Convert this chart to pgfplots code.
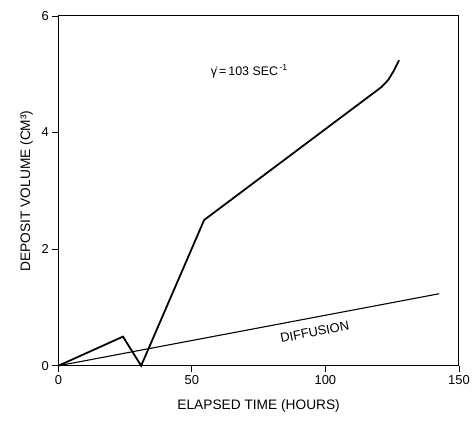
\documentclass[border=0pt]{standalone}
\usepackage{fontspec}
\setmainfont{Liberation Sans}
\usepackage{pgfplots}
\pgfplotsset{compat=1.18}
\begin{document}
\begin{tikzpicture}
\begin{axis}[
  scale only axis, width=403pt, height=352pt,
  xmin=0, xmax=150, ymin=0, ymax=6,
  xtick={0,50,100,150}, ytick={0,2,4,6},
  tick align=outside, tick style={black, line width=0.8pt}, major tick length=6pt,
  xtick pos=bottom, ytick pos=left,
  axis line style={line width=1pt},
  /pgf/number format/assume math mode=true,
  ticklabel style={font=\fontsize{13}{15}\selectfont},
  xlabel={ELAPSED TIME (HOURS)}, ylabel={DEPOSIT VOLUME (CM³)},
  label style={font=\fontsize{13.8}{15}\selectfont},
  xlabel style={yshift=-8pt},
  ylabel style={yshift=2pt},
  clip=false,
]
\addplot[black, line width=1.8pt] coordinates {
 (0,0) (24.2,0.50) (31,0) (54.6,2.50) (121,4.78) (123.5,4.90) (125.5,5.05) (127.6,5.24)};
\addplot[black, line width=1.1pt] coordinates {(0,0) (142.6,1.235)};
\node[rotate=11, font=\fontsize{13}{15}\selectfont] at (axis cs:96,0.58) {DIFFUSION};
\node[font=\fontsize{12.5}{15}\selectfont] at (axis cs:71.5,5.05) {γ̇\,=\,103 SEC\textsuperscript{\,-1}};
\path (rel axis cs:0,0) ++(-58.7pt,-58pt) coordinate (bl);
\path (rel axis cs:1,1) ++(11pt,16pt) coordinate (tr);
\path (bl) rectangle (tr);
\end{axis}
\end{tikzpicture}
\end{document}
